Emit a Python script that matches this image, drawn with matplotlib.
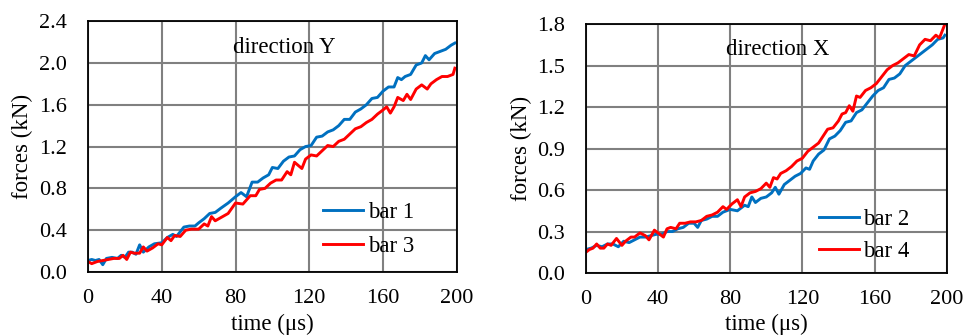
import matplotlib.pyplot as plt

plt.rcParams['font.family'] = ['Liberation Serif', 'DejaVu Serif']
plt.rcParams['font.size'] = 16.5

# direction Y
t_bar1 = [0, 2, 4, 6, 8, 10, 13, 16, 18, 20, 22, 24, 26, 28, 30, 33, 36, 40, 43, 46, 48, 52, 55,
          58, 60, 63, 66, 69, 72, 76, 80, 83, 86, 89, 92, 95, 98, 100, 103, 106, 109, 112, 115,
          118, 121, 124, 127, 130, 133, 136, 139, 142, 145, 148, 151, 154, 157, 160, 163, 166,
          168, 170, 172, 175, 178, 181, 183, 185, 188, 191, 194, 197, 199]
f_bar1 = [0.11, 0.12, 0.11, 0.12, 0.07, 0.13, 0.14, 0.13, 0.16, 0.14, 0.19, 0.19, 0.17, 0.26, 0.19,
          0.24, 0.27, 0.28, 0.33, 0.36, 0.34, 0.43, 0.44, 0.44, 0.47, 0.51, 0.56, 0.57, 0.61, 0.66,
          0.72, 0.76, 0.72, 0.86, 0.86, 0.90, 0.93, 1.00, 0.99, 1.06, 1.10, 1.11, 1.17, 1.20, 1.21,
          1.29, 1.30, 1.34, 1.36, 1.40, 1.46, 1.46, 1.53, 1.56, 1.60, 1.66, 1.67, 1.73, 1.77, 1.77,
          1.86, 1.84, 1.87, 1.89, 1.98, 2.00, 2.07, 2.03, 2.09, 2.11, 2.13, 2.17, 2.19]

t_bar3 = [0, 2, 5, 8, 11, 14, 17, 19, 21, 23, 25, 28, 30, 32, 35, 38, 40, 43, 45, 47, 50, 53,
          56, 60, 63, 65, 67, 69, 72, 76, 80, 84, 86, 88, 91, 93, 96, 99, 102, 105, 108, 110, 112,
          114, 116, 118, 121, 124, 127, 130, 133, 136, 139, 142, 145, 148, 151, 154, 157, 160, 162,
          164, 166, 168, 171, 173, 175, 178, 181, 184, 186, 189, 192, 195, 198, 199]
f_bar3 = [0.10, 0.08, 0.10, 0.11, 0.12, 0.13, 0.13, 0.16, 0.12, 0.19, 0.18, 0.18, 0.24, 0.20,
          0.23, 0.27, 0.26, 0.33, 0.30, 0.35, 0.34, 0.40, 0.41, 0.41, 0.46, 0.44, 0.53, 0.49, 0.52,
          0.56, 0.66, 0.65, 0.69, 0.73, 0.73, 0.79, 0.80, 0.85, 0.88, 0.88, 0.96, 0.93, 1.05, 1.02,
          0.99, 1.08, 1.12, 1.11, 1.16, 1.21, 1.20, 1.25, 1.27, 1.32, 1.37, 1.39, 1.43, 1.46, 1.51,
          1.55, 1.58, 1.52, 1.58, 1.67, 1.64, 1.70, 1.65, 1.75, 1.79, 1.75, 1.80, 1.84, 1.87, 1.87,
          1.89, 1.95]

# direction X
t_bar2 = [0, 3, 6, 9, 12, 15, 18, 21, 24, 27, 30, 33, 36, 39, 42, 45, 48, 51, 54, 57, 60, 62,
          64, 67, 70, 73, 76, 80, 84, 88, 90, 92, 94, 97, 100, 103, 105, 107, 110, 113, 116, 119,
          122, 124, 126, 129, 132, 135, 138, 141, 144, 147, 150, 153, 156, 159, 162, 165, 168, 171,
          174, 177, 180, 183, 186, 189, 192, 195, 198, 199]
f_bar2 = [0.17, 0.18, 0.20, 0.19, 0.21, 0.21, 0.19, 0.23, 0.22, 0.24, 0.26, 0.26, 0.27, 0.28,
          0.28, 0.30, 0.30, 0.32, 0.33, 0.36, 0.36, 0.33, 0.38, 0.39, 0.41, 0.41, 0.44, 0.46, 0.45,
          0.49, 0.48, 0.55, 0.51, 0.54, 0.55, 0.58, 0.62, 0.57, 0.64, 0.67, 0.70, 0.72, 0.76, 0.75,
          0.81, 0.86, 0.89, 0.97, 0.99, 1.03, 1.09, 1.10, 1.16, 1.18, 1.23, 1.28, 1.32, 1.34, 1.40,
          1.41, 1.44, 1.50, 1.53, 1.56, 1.59, 1.62, 1.65, 1.69, 1.70, 1.72]

t_bar4 = [0, 2, 4, 6, 8, 10, 12, 14, 17, 20, 22, 25, 27, 30, 33, 35, 38, 40, 43, 45, 47, 50, 52,
          55, 58, 61, 64, 67, 70, 73, 76, 78, 81, 84, 86, 88, 91, 94, 97, 100, 102, 104, 106, 108,
          111, 114, 117, 120, 123, 126, 129, 131, 134, 137, 140, 142, 144, 146, 148, 150, 152, 155,
          158, 161, 164, 167, 170, 173, 176, 179, 182, 185, 188, 191, 194, 196, 199]
f_bar4 = [0.15, 0.17, 0.18, 0.21, 0.18, 0.18, 0.21, 0.20, 0.25, 0.20, 0.23, 0.26, 0.26, 0.29,
          0.27, 0.24, 0.31, 0.29, 0.26, 0.32, 0.33, 0.32, 0.36, 0.36, 0.37, 0.37, 0.38, 0.41, 0.42,
          0.44, 0.48, 0.46, 0.50, 0.53, 0.48, 0.55, 0.58, 0.59, 0.61, 0.65, 0.62, 0.69, 0.68, 0.72,
          0.74, 0.77, 0.81, 0.83, 0.88, 0.91, 0.94, 0.98, 1.04, 1.05, 1.10, 1.15, 1.16, 1.21, 1.17,
          1.28, 1.27, 1.32, 1.34, 1.37, 1.42, 1.47, 1.50, 1.52, 1.55, 1.58, 1.57, 1.65, 1.69, 1.68,
          1.72, 1.70, 1.80]

fig = plt.figure(figsize=(9.78, 3.35), dpi=100)
ax1 = fig.add_axes([0.090, 0.188, 0.377, 0.749])
ax2 = fig.add_axes([0.599, 0.185, 0.369, 0.743])

blue = '#0070C0'
red = '#FF0000'


def style(ax, ymax, step):
    ax.set_xlim(0, 200)
    ax.set_ylim(0, ymax)
    ax.set_xticks(range(0, 201, 40))
    n = int(round(ymax / step))
    ax.set_yticks([i * step for i in range(n + 1)])
    ax.yaxis.set_major_formatter(plt.FormatStrFormatter('%.1f'))
    ax.grid(True, color='#808080', linewidth=1.5)
    ax.set_axisbelow(True)
    ax.tick_params(length=0, labelsize=16)
    ax.tick_params(axis='y', pad=15)
    ax.tick_params(axis='x', pad=12)
    for s in ax.spines.values():
        s.set_linewidth(1.3)
        s.set_color('black')
    ax.set_xlabel('time (\u03bcs)', fontsize=16.5)
    ax.set_ylabel('forces (kN)', fontsize=16.5)
    ax.xaxis.set_label_coords(0.5, -0.165)
    ax.yaxis.set_label_coords(-0.148, 0.5)


ax1.plot(t_bar1, f_bar1, color=blue, lw=2.1, label='bar 1')
ax1.plot(t_bar3, f_bar3, color=red, lw=2.1, label='bar 3')
style(ax1, 2.4, 0.4)
ax1.text(0.531, 0.873, 'direction Y', transform=ax1.transAxes, ha='center', va='baseline')
ax1.legend(loc='upper left', bbox_to_anchor=(0.637, 0.278), frameon=False, fontsize=16.5,
           borderpad=0, borderaxespad=0, handlelength=1.75, handletextpad=0.2,
           labelspacing=0.55)

ax2.plot(t_bar2, f_bar2, color=blue, lw=2.1, label='bar 2')
ax2.plot(t_bar4, f_bar4, color=red, lw=2.1, label='bar 4')
style(ax2, 1.8, 0.3)
ax2.text(0.532, 0.875, 'direction X', transform=ax2.transAxes, ha='center', va='baseline')
ax2.legend(loc='upper left', bbox_to_anchor=(0.645, 0.258), frameon=False, fontsize=16.5,
           borderpad=0, borderaxespad=0, handlelength=1.75, handletextpad=0.2,
           labelspacing=0.5)

fig.savefig('out.png', dpi=100)
